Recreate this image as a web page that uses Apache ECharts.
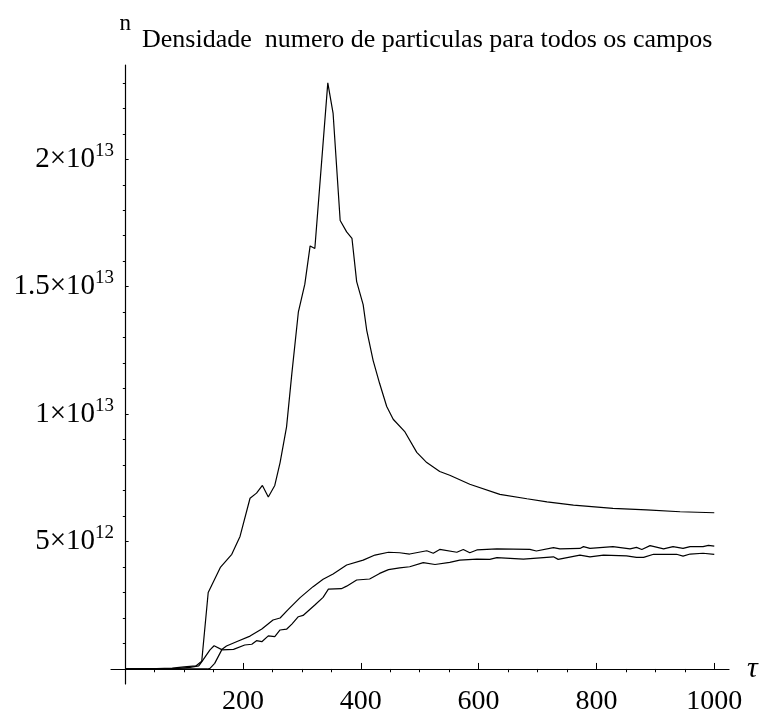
<!DOCTYPE html>
<html>
<head>
<meta charset="utf-8">
<script src="https://cdn.jsdelivr.net/npm/echarts@6/dist/echarts.min.js"></script>
<style>
html,body{margin:0;padding:0;background:#fff;}
#chart{width:763px;height:724px;}
</style>
</head>
<body>
<div id="chart"></div>
<script>
// ---- data (n in units of 1e12) ----
const UNIT = 1e12;
const tauA = [0,40,80,100,120,130,141,162,181,195,212,223,233,243,254,263,274,283,294,305,314,322,344,353,365,376,385,393,404,410,421,432,444,455,475,495,512,534,551,585,636,682,716,761,828,885,942,1000];
const nA   = [0,0,0.03,0.08,0.12,0.3,3.0,4.0,4.5,5.2,6.7,6.9,7.2,6.75,7.2,8.1,9.5,11.6,14.0,15.1,16.6,16.5,23.0,21.8,17.6,17.15,16.9,15.2,14.3,13.3,12.1,11.2,10.3,9.8,9.3,8.5,8.1,7.75,7.6,7.25,6.85,6.68,6.56,6.43,6.3,6.24,6.17,6.13];

const tauB = [0,90,110,125,132,144,151,164,172,190,212,232,251,263,277,297,319,336,353,376,404,424,447,466,483,512,523,534,563,574,585,597,631,687,698,727,738,772,778,789,828,857,868,877,891,914,930,947,959,981,990,1000];
const nB   = [0,0.02,0.06,0.12,0.35,0.75,0.91,0.76,0.9,1.08,1.29,1.57,1.92,2.0,2.34,2.8,3.23,3.52,3.73,4.08,4.27,4.47,4.58,4.56,4.51,4.64,4.54,4.69,4.58,4.69,4.56,4.67,4.71,4.69,4.63,4.76,4.71,4.73,4.8,4.73,4.8,4.71,4.77,4.69,4.84,4.71,4.8,4.73,4.8,4.8,4.85,4.82];

const tauC = [0,140,144,152,164,184,203,215,223,232,243,254,263,274,283,294,302,322,336,345,367,376,393,415,432,447,466,483,506,526,551,568,597,619,631,676,710,727,735,772,789,812,851,868,880,897,936,947,959,981,1000];
const nC   = [0,0,0.02,0.22,0.75,0.77,0.94,0.97,1.11,1.07,1.3,1.27,1.53,1.56,1.76,2.05,2.1,2.51,2.81,3.13,3.15,3.25,3.49,3.53,3.75,3.9,3.97,4.01,4.17,4.1,4.18,4.27,4.31,4.3,4.37,4.31,4.37,4.4,4.3,4.47,4.4,4.47,4.44,4.38,4.38,4.5,4.5,4.43,4.51,4.54,4.5];

// ---- ticks / labels ----
const xLabelTicks = [200,400,600,800,1000];
const xMinorTicks = [50,100,150,250,300,350,450,500,550,650,700,750,850,900,950];
const yLabelTicks = [5e12,1e13,1.5e13,2e13];
const yMinorTicks = [1e12,2e12,3e12,4e12,6e12,7e12,8e12,9e12,11e12,12e12,13e12,14e12,16e12,17e12,18e12,19e12,21e12,22e12,23e12];

const titleText = 'Densidade  numero de particulas para todos os campos';
const yName = 'n';
const xName = '\u03c4';

const FONT = '"Liberation Serif","Times New Roman",serif';
const X_MIN = -24, X_MAX = 1025, Y_MIN = -0.59e12, Y_MAX = 2.37e13;

function pairs(t, n){ return t.map((v,i)=>[v, n[i]*UNIT]); }
function sciLabel(v){
  const e = Math.floor(Math.log10(v) + 1e-9);
  const m = +(v/Math.pow(10,e)).toFixed(2);
  return '{m|' + m + '\u00d7' + '10}{s|' + e + '}';
}

const lineStyle = {color:'#000', width:1.2};
function mkSeries(data){
  return {type:'line', data:data, symbol:'none', lineStyle:lineStyle, silent:true, animation:false, xAxisIndex:0, yAxisIndex:0};
}

const chart = echarts.init(document.getElementById('chart'), null, {renderer:'canvas'});
chart.setOption({
  backgroundColor:'#fff',
  animation:false,
  title:{
    text:titleText, left:137, top:22,
    textStyle:{fontFamily:FONT, fontSize:26, fontWeight:'normal', color:'#000'}
  },
  grid:{left:111, right:34, top:65, bottom:40, containLabel:false},
  xAxis:[
    {
      type:'value', min:X_MIN, max:X_MAX,
      axisLine:{onZero:true, onZeroAxisIndex:0, lineStyle:{color:'#000', width:1.2}},
      axisTick:{show:true, inside:true, length:6, customValues:xLabelTicks, lineStyle:{color:'#000', width:1}},
      axisLabel:{customValues:xLabelTicks, margin:4, fontFamily:FONT, fontSize:28, lineHeight:28, color:'#000',
                 formatter:function(v){ return String(v); }},
      splitLine:{show:false},
      name:xName, nameLocation:'end', nameGap:18,
      nameTextStyle:{fontFamily:FONT, fontSize:30, fontStyle:'italic', color:'#000'}
    },
    {
      type:'value', min:X_MIN, max:X_MAX,
      axisLine:{show:false, onZero:true, onZeroAxisIndex:0},
      axisTick:{show:true, inside:true, length:3.3, customValues:xMinorTicks, lineStyle:{color:'#000', width:1}},
      axisLabel:{show:false},
      splitLine:{show:false}
    }
  ],
  yAxis:[
    {
      type:'value', min:Y_MIN, max:Y_MAX,
      axisLine:{onZero:true, onZeroAxisIndex:0, lineStyle:{color:'#000', width:1.2}},
      axisTick:{show:true, inside:true, length:3.5, customValues:yLabelTicks, lineStyle:{color:'#000', width:1}},
      axisLabel:{
        customValues:yLabelTicks, margin:-3, formatter:sciLabel,
        rich:{
          m:{fontFamily:FONT, fontSize:29, lineHeight:36, color:'#000'},
          s:{fontFamily:FONT, fontSize:19, lineHeight:19, verticalAlign:'top', color:'#000'}
        }
      },
      splitLine:{show:false},
      name:yName, nameLocation:'end', nameGap:30,
      nameTextStyle:{fontFamily:FONT, fontSize:23, color:'#000', align:'center'}
    },
    {
      type:'value', min:Y_MIN, max:Y_MAX,
      axisLine:{show:false, onZero:true, onZeroAxisIndex:0},
      axisTick:{show:true, inside:true, length:2.3, customValues:yMinorTicks, lineStyle:{color:'#000', width:1}},
      axisLabel:{show:false},
      splitLine:{show:false}
    }
  ],
  series:[
    mkSeries(pairs(tauA, nA)),
    mkSeries(pairs(tauB, nB)),
    mkSeries(pairs(tauC, nC))
  ]
});
</script>
</body>
</html>
